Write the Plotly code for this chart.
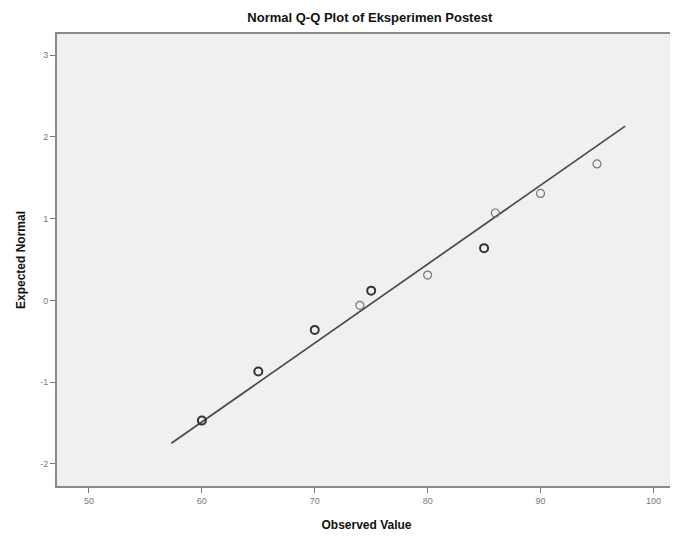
import plotly.graph_objects as go

# Data
observed = [60, 65, 70, 74, 75, 80, 85, 86, 90, 95]
expected = [-1.47, -0.87, -0.36, -0.06, 0.12, 0.31, 0.64, 1.07, 1.31, 1.67]
bold_pts = [True, True, True, False, True, False, True, False, False, False]
line_mean = 75.4
line_sd = 10.36
line_x = [57.3, 97.5]
x_ticks = [50, 60, 70, 80, 90, 100]
y_ticks = [-2, -1, 0, 1, 2, 3]
y_tick_labels = ["-2", "-1", "0", "1", "2", "3"]

line_y = [(v - line_mean) / line_sd for v in line_x]

fig = go.Figure()
fig.add_trace(go.Scatter(
    x=line_x, y=line_y, mode="lines",
    line=dict(color="#4a4a4a", width=1.7), showlegend=False, hoverinfo="skip"))
fig.add_trace(go.Scatter(
    x=observed, y=expected, mode="markers",
    marker=dict(symbol="circle-open", size=8,
                color=["#333333" if b else "#777777" for b in bold_pts],
                line=dict(width=[2 if b else 1.2 for b in bold_pts])),
    showlegend=False))

fig.update_layout(
    width=670, height=529,
    margin=dict(l=49, r=0, t=26, b=51),
    paper_bgcolor="white", plot_bgcolor="#f0f0f0",
    font=dict(family="Liberation Sans, Arial, sans-serif", color="#222"),
    title=dict(text="<b>Normal Q-Q Plot of Eksperimen Postest</b>",
               x=0.54, xanchor="center", y=0.983, yanchor="middle",
               font=dict(size=13, color="#111")),
)
fig.update_xaxes(
    range=[47.17, 102.0], tickvals=x_ticks, ticks="outside", ticklen=5,
    tickcolor="#777", tickfont=dict(size=9, color="#777"),
    showgrid=False, zeroline=False, showline=True, linecolor="#8a8a8a",
    linewidth=2, mirror=True,
    title=dict(text="<b>Observed Value</b>", font=dict(size=12, color="#111"),
               standoff=16))
fig.update_yaxes(
    range=[-2.27, 3.26], tickvals=y_ticks, ticktext=y_tick_labels,
    ticks="outside", ticklen=5,
    tickcolor="#777", tickfont=dict(size=9, color="#777"),
    showgrid=False, zeroline=False, showline=True, linecolor="#8a8a8a",
    linewidth=2, mirror=True,
    title=dict(text="<b>Expected Normal</b>", font=dict(size=12, color="#111"),
               standoff=12))

fig.write_html("out.html")
